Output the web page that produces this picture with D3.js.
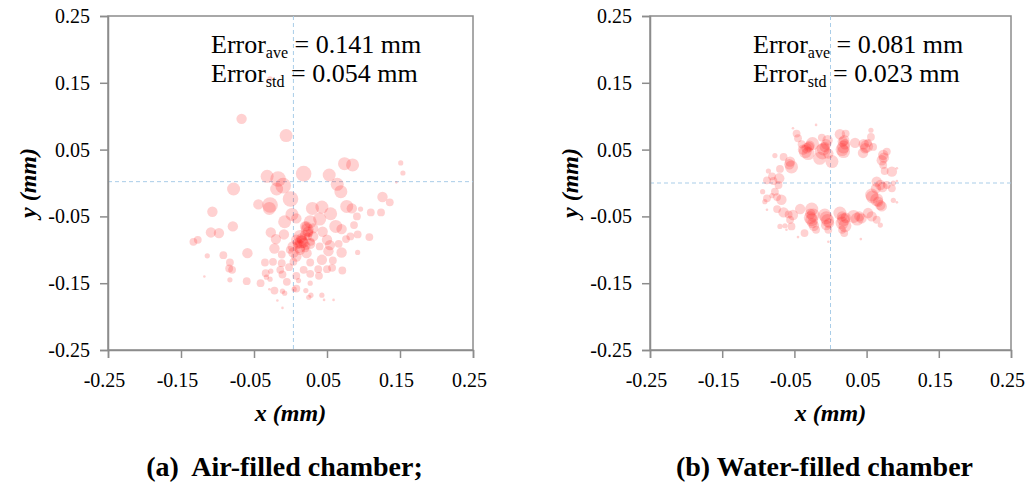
<!DOCTYPE html>
<html>
<head>
<meta charset="utf-8">
<script src="https://cdn.jsdelivr.net/npm/d3@7"></script>
<style>
  body { margin: 0; background: #fff; }
  svg text { font-family: "Liberation Serif", "Times New Roman", serif; }
</style>
</head>
<body>
<div id="chart"></div>
<script>
// measured positions [x mm, y mm, bubble size]
const airPoints = [
  [-0.067,0.096,4],[-0.006,0.071,5],[0.074,0.029,5],[0.085,0.027,5],[0.151,0.030,2],[0.154,0.015,2],
  [0.145,0.001,1],[-0.032,0.010,5],[-0.017,0.006,6],[0.018,0.014,6],[0.053,0.012,5],[-0.010,-0.004,6],
  [-0.019,-0.009,5],[-0.078,-0.009,5],[0.064,-0.002,5],[0.069,-0.013,5],[0.000,-0.024,6],[-0.044,-0.032,4],
  [-0.028,-0.033,6],[-0.029,-0.038,5],[-0.107,-0.043,4],[0.030,-0.038,5],[0.043,-0.036,5],[0.077,-0.035,5],
  [0.084,-0.038,4],[0.096,-0.039,2],[0.126,-0.021,4],[0.136,-0.029,3],[0.110,-0.044,3],[0.124,-0.044,3],
  [0.091,-0.050,3],[0.055,-0.046,5],[0.040,-0.054,5],[0.002,-0.047,5],[0.008,-0.053,4],[-0.008,-0.058,5],
  [0.027,-0.058,5],[0.020,-0.065,4],[0.023,-0.070,5],[0.062,-0.065,5],[0.070,-0.069,4],[0.087,-0.063,3],
  [-0.079,-0.065,4],[-0.109,-0.074,4],[-0.098,-0.075,4],[-0.027,-0.074,4],[-0.009,-0.077,4],[-0.020,-0.084,4],
  [0.013,-0.080,5],[0.031,-0.080,4],[0.044,-0.073,4],[0.050,-0.085,4],[0.082,-0.080,3],[0.092,-0.077,3],
  [0.076,-0.084,3],[0.108,-0.081,3],[-0.133,-0.088,3],[-0.127,-0.085,3],[0.015,-0.088,5],[0.012,-0.095,5],
  [0.003,-0.095,4],[0.027,-0.091,4],[0.040,-0.095,3],[0.054,-0.093,4],[0.066,-0.091,3],[0.052,-0.102,4],
  [0.070,-0.104,4],[0.092,-0.104,2],[-0.022,-0.098,4],[0.004,-0.104,4],[-0.012,-0.107,3],[0.008,-0.110,4],
  [0.022,-0.105,4],[-0.059,-0.105,4],[-0.092,-0.108,3],[-0.114,-0.109,2],[-0.024,-0.118,3],[-0.035,-0.119,3],
  [-0.012,-0.120,3],[0.004,-0.118,3],[0.027,-0.119,3],[0.043,-0.115,4],[0.058,-0.116,3],[-0.083,-0.119,3],
  [-0.084,-0.128,3],[-0.080,-0.130,3],[-0.014,-0.130,3],[-0.002,-0.126,3],[0.018,-0.130,3],[0.038,-0.129,3],
  [0.050,-0.129,3],[0.057,-0.127,3],[0.071,-0.131,3],[-0.034,-0.135,3],[-0.027,-0.132,2],[-0.011,-0.137,3],
  [0.008,-0.139,3],[0.027,-0.136,3],[0.039,-0.139,3],[-0.033,-0.141,2],[-0.028,-0.144,2],[-0.005,-0.148,3],
  [0.011,-0.146,2],[-0.060,-0.147,3],[-0.083,-0.145,2],[-0.118,-0.140,1],[-0.041,-0.150,3],[0.027,-0.150,2],
  [0.008,-0.158,3],[0.005,-0.159,2],[-0.022,-0.161,3],[-0.011,-0.162,2],[-0.008,-0.165,2],[0.021,-0.161,2],
  [0.028,-0.168,2],[0.025,-0.171,2],[0.043,-0.168,2],[-0.029,-0.159,1],[0.046,-0.175,1],[0.059,-0.175,1],
  [-0.018,-0.176,1],[-0.011,-0.187,1],[-0.028,0.156,2],
  [0.022,-0.065,4],[0.024,-0.073,4],[0.015,-0.083,4],[0.018,-0.090,4],[0.011,-0.093,3],[0.024,-0.080,3],
  [0.013,-0.100,4],[0.020,-0.098,3],[0.031,-0.068,4],[0.028,-0.088,3],[0.008,-0.085,4],[-0.001,-0.100,3],
  [0.020,-0.078,4],[0.016,-0.086,4],[0.026,-0.075,3],[0.010,-0.090,4],[0.022,-0.094,3]
];

const waterPoints = [
  [-0.052,0.082,1],[-0.020,0.087,1],[-0.047,0.074,3],[-0.045,0.067,3],[-0.040,0.058,3],[-0.038,0.050,4],
  [-0.031,0.044,5],[-0.025,0.059,5],[-0.033,0.052,4],[-0.012,0.068,3],[-0.011,0.047,6],[-0.008,0.054,4],
  [-0.004,0.064,4],[-0.015,0.037,5],[0.002,0.032,5],[-0.003,0.044,4],[0.013,0.073,4],[0.021,0.074,3],
  [0.018,0.054,5],[0.018,0.047,5],[0.017,0.062,4],[0.034,0.060,4],[0.046,0.058,4],[0.050,0.055,5],
  [0.056,0.079,2],[0.056,0.069,3],[0.045,0.045,4],[0.059,0.054,3],[0.073,0.042,4],[0.071,0.034,4],
  [0.078,0.047,3],[0.073,0.027,3],[0.085,0.017,4],[0.075,0.018,3],[0.092,0.022,1],[-0.054,0.024,5],
  [-0.056,0.032,4],[-0.065,0.039,3],[-0.077,0.041,2],[-0.070,0.021,3],[-0.086,0.018,2],[-0.081,0.010,3],
  [-0.088,0.004,3],[-0.079,0.003,3],[-0.071,0.007,4],[-0.072,-0.003,3],[0.064,0.002,4],[0.069,-0.003,4],
  [0.078,-0.003,3],[0.087,0.000,2],[0.092,0.003,1],[0.063,-0.008,4],[0.085,-0.008,3],[0.057,-0.018,5],
  [0.058,-0.021,5],[0.064,-0.025,5],[0.069,-0.033,4],[0.071,-0.035,4],[0.087,-0.026,2],[0.092,-0.029,1],
  [-0.094,-0.013,2],[-0.077,-0.013,3],[-0.081,-0.019,2],[-0.088,-0.023,3],[-0.074,-0.021,3],[-0.068,-0.025,4],
  [-0.091,-0.028,2],[-0.088,-0.040,1],[-0.074,-0.039,3],[-0.065,-0.044,4],[-0.052,-0.048,4],[-0.042,-0.039,4],
  [-0.056,-0.055,3],[-0.054,-0.065,3],[-0.063,-0.064,2],[-0.070,-0.065,2],[-0.036,-0.075,3],[-0.061,-0.070,1],
  [-0.045,-0.081,1],[-0.026,-0.039,5],[-0.024,-0.048,5],[-0.026,-0.055,5],[-0.023,-0.064,4],[-0.020,-0.070,3],
  [-0.008,-0.048,5],[-0.004,-0.056,5],[-0.006,-0.063,4],[-0.003,-0.070,3],[0.013,-0.045,5],[0.018,-0.055,5],
  [0.020,-0.064,5],[0.016,-0.070,3],[0.019,-0.075,3],[0.032,-0.050,5],[0.037,-0.054,5],[0.043,-0.053,4],
  [0.052,-0.045,4],[0.057,-0.050,4],[0.064,-0.055,3],[0.069,-0.063,2],[0.042,-0.084,1],[-0.003,-0.088,1],
  [-0.030,0.054,4],[0.019,0.064,4],[-0.028,-0.046,4],[0.016,-0.050,4],
  [-0.035,0.047,5],[-0.029,0.056,4],[-0.010,0.051,5],[-0.006,0.058,4],[0.016,0.050,5],[0.020,0.058,4],
  [0.048,0.052,4],[0.052,0.060,3],[-0.057,0.028,4],[0.074,0.038,4],[0.072,-0.006,4],[0.066,-0.028,4],
  [-0.028,-0.052,5],[-0.025,-0.060,4],[-0.006,-0.052,5],[-0.002,-0.060,4],[0.016,-0.060,5],[0.021,-0.052,4],
  [0.040,-0.050,4],[-0.058,-0.047,3]
];

const airCenter = [0.004, 0.002];
const waterCenter = [0.0, 0.0];

const tickValues = [-0.25, -0.15, -0.05, 0.05, 0.15, 0.25];

const panels = [
  { points: airPoints, center: airCenter, left: 108, right: 473, ave: "0.141", std: "0.054", caption: "(a)\u00a0 Air-filled chamber;" },
  { points: waterPoints, center: waterCenter, left: 650, right: 1011, ave: "0.081", std: "0.023", caption: "(b) Water-filled chamber" }
];

const W = 1027, H = 484;
const plotTop = 16, plotBottom = 350;
const serif = "Liberation Serif, Times New Roman, serif";

const svg = d3.select("#chart").append("svg")
  .attr("width", W)
  .attr("height", H);

const size = d3.scaleLinear().domain([0, 6]).range([0, 7.8]);

panels.forEach(p => {
  const x = d3.scaleLinear().domain([-0.25, 0.25]).range([p.left, p.right]);
  const y = d3.scaleLinear().domain([-0.25, 0.25]).range([plotBottom, plotTop]);

  // frame
  svg.append("rect")
    .attr("x", x(-0.25)).attr("y", y(0.25))
    .attr("width", p.right - p.left).attr("height", plotBottom - plotTop)
    .attr("fill", "none").attr("stroke", "#8c8c8c").attr("stroke-width", 1.5);

  // center cross
  svg.append("line")
    .attr("x1", x(p.center[0])).attr("x2", x(p.center[0]))
    .attr("y1", y(0.25)).attr("y2", y(-0.25))
    .attr("stroke", "#a9cde8").attr("stroke-width", 1).attr("stroke-dasharray", "4,3");
  svg.append("line")
    .attr("x1", x(-0.25)).attr("x2", x(0.25))
    .attr("y1", y(p.center[1])).attr("y2", y(p.center[1]))
    .attr("stroke", "#a9cde8").attr("stroke-width", 1).attr("stroke-dasharray", "4,3");

  svg.append("g").selectAll("circle")
    .data(p.points)
    .join("circle")
    .attr("cx", d => x(d[0]))
    .attr("cy", d => y(d[1]))
    .attr("r", d => size(d[2]))
    .attr("fill", "#ff1a1a")
    .attr("fill-opacity", 0.2);

  const xAxis = svg.append("g")
    .attr("transform", `translate(0,${plotBottom})`)
    .call(d3.axisBottom(x).tickValues(tickValues).tickSize(8).tickPadding(15)
      .tickFormat(d => d.toFixed(2)));
  const yAxis = svg.append("g")
    .attr("transform", `translate(${p.left},0)`)
    .call(d3.axisLeft(y).tickValues(tickValues).tickSize(8).tickPadding(10)
      .tickFormat(d => d.toFixed(2)));
  xAxis.selectAll(".tick text").attr("dx", -4);
  [xAxis, yAxis].forEach(a => {
    a.attr("font-family", serif).attr("font-size", 20);
    a.select(".domain").attr("stroke", "#8c8c8c").attr("stroke-width", 1.5);
    a.selectAll(".tick line").attr("stroke", "#8c8c8c").attr("stroke-width", 1.5);
    a.selectAll(".tick text").attr("fill", "#000");
  });

  // error annotation
  const ann = [["ave", p.ave, 53], ["std", p.std, 82]];
  ann.forEach(([sub, val, by]) => {
    const t = svg.append("text")
      .attr("x", x(-0.25) + 103).attr("y", by)
      .attr("font-family", serif).attr("font-size", 26).attr("fill", "#000");
    t.append("tspan").text("Error");
    t.append("tspan").attr("dy", 5).attr("font-size", 16).text(sub);
    t.append("tspan").attr("dy", -5).text(" = " + val + " mm");
  });

  // axis titles
  svg.append("text")
    .attr("x", x(0)).attr("y", 421)
    .attr("text-anchor", "middle")
    .attr("font-family", serif).attr("font-size", 24)
    .attr("font-weight", "bold").attr("font-style", "italic")
    .text("x (mm)");
  svg.append("text")
    .attr("transform", `translate(${p.left - 72},${y(0)}) rotate(-90)`)
    .attr("text-anchor", "middle")
    .attr("font-family", serif).attr("font-size", 24)
    .attr("font-weight", "bold").attr("font-style", "italic")
    .text("y (mm)");

  svg.append("text")
    .attr("x", x(0) - 6).attr("y", 476)
    .attr("text-anchor", "middle")
    .attr("font-family", serif).attr("font-size", 28).attr("font-weight", "bold")
    .text(p.caption);
});
</script>
</body>
</html>
